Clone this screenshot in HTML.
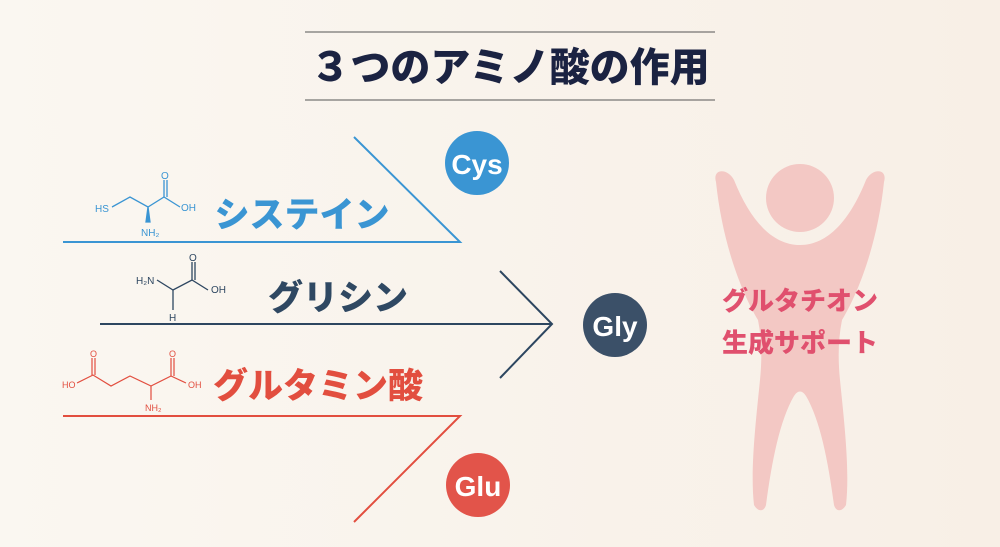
<!DOCTYPE html>
<html><head><meta charset="utf-8"><style>
html,body{margin:0;padding:0}
body{width:1000px;height:547px;background:linear-gradient(90deg,#faf7f1,#f8efe6);overflow:hidden;position:relative;font-family:"Liberation Sans","Noto Sans CJK JP",sans-serif}
svg{position:absolute;left:0;top:0}
</style></head><body>
<svg width="1000" height="547" viewBox="0 0 1000 547">
<line x1="305" y1="32" x2="715" y2="32" stroke="#555" stroke-width="1"/>
<line x1="305" y1="100" x2="715" y2="100" stroke="#555" stroke-width="1"/>
<text x="510" y="81" text-anchor="middle" font-size="40" font-weight="900" fill="#1b2342" font-family="Noto Sans CJK JP,sans-serif">３つのアミノ酸の作用</text>

<!-- Cys -->
<polyline points="354,137 460,242 63,242" fill="none" stroke="#3a95d3" stroke-width="2"/>
<circle cx="477" cy="163" r="32" fill="#3a95d3"/>
<text x="477" y="174" text-anchor="middle" font-size="28" font-weight="bold" fill="#fff">Cys</text>
<text x="302" y="227" text-anchor="middle" font-size="35" font-weight="900" fill="#3a95d3" font-family="Noto Sans CJK JP,sans-serif">システイン</text>
<g stroke="#3a95d3" stroke-width="1.3" fill="none">
<polyline points="112,207 130,197 148,207 164,197 180,207"/>
<line x1="164" y1="197" x2="164" y2="180"/><line x1="167" y1="197" x2="167" y2="180"/>
<path d="M148,207 L146,222 L150,222 Z" fill="#3a95d3"/>
</g>
<g fill="#3a95d3" font-size="10"><text x="95" y="212">HS</text><text x="161" y="179">O</text><text x="181" y="211">OH</text><text x="141" y="236">NH₂</text></g>

<!-- Gly -->
<line x1="100" y1="324" x2="552" y2="324" stroke="#2d4660" stroke-width="2"/>
<polyline points="500,271 552,324 500,378" fill="none" stroke="#2d4660" stroke-width="2"/>
<circle cx="615" cy="325" r="32" fill="#3b5068"/>
<text x="615" y="336" text-anchor="middle" font-size="28" font-weight="bold" fill="#fff">Gly</text>
<text x="338" y="310" text-anchor="middle" font-size="35" font-weight="900" fill="#2f4862" font-family="Noto Sans CJK JP,sans-serif">グリシン</text>
<g stroke="#2d4660" stroke-width="1.3" fill="none">
<polyline points="157,280 173,290 192,280 208,290"/>
<line x1="192" y1="280" x2="192" y2="262"/><line x1="195" y1="280" x2="195" y2="262"/>
<line x1="173" y1="290" x2="173" y2="310"/>
</g>
<g fill="#2d4660" font-size="10"><text x="136" y="284">H₂N</text><text x="189" y="261">O</text><text x="211" y="293">OH</text><text x="169" y="321">H</text></g>

<!-- Glu -->
<polyline points="63,416 460,416 354,522" fill="none" stroke="#e24e3f" stroke-width="2"/>
<circle cx="478" cy="485" r="32" fill="#e2544a"/>
<text x="478" y="496" text-anchor="middle" font-size="28" font-weight="bold" fill="#fff">Glu</text>
<text x="318" y="398" text-anchor="middle" font-size="35" font-weight="900" fill="#e24e3f" font-family="Noto Sans CJK JP,sans-serif">グルタミン酸</text>
<g stroke="#e24e3f" stroke-width="1.2" fill="none">
<polyline points="77,383 93,375 111,386 130,376 151,386 171,376 186,383"/>
<line x1="92" y1="375" x2="92" y2="358"/><line x1="95" y1="375" x2="95" y2="358"/>
<line x1="171" y1="376" x2="171" y2="358"/><line x1="174" y1="376" x2="174" y2="358"/>
<line x1="151" y1="386" x2="151" y2="400"/>
</g>
<g fill="#e24e3f" font-size="9"><text x="62" y="388">HO</text><text x="90" y="357">O</text><text x="169" y="357">O</text><text x="188" y="388">OH</text><text x="145" y="411">NH₂</text></g>

<!-- figure -->
<g fill="#f3c8c4">
<circle cx="800" cy="198" r="34"/>
<path d="M716,182 C712,168 728,168 734,180 C750,220 772,245 800,245 C828,245 850,220 866,180 C872,168 888,168 884,182 C878,240 860,290 842,320 C838,340 838,360 840,380 C844,420 850,470 846,505 C842,512 836,512 834,505 C828,460 820,420 806,396 C802,390 798,390 794,396 C780,420 772,460 766,505 C764,512 758,512 754,505 C750,470 756,420 760,380 C762,360 762,340 758,320 C740,290 722,240 716,182 Z"/>
</g>
<g font-size="26" font-weight="900" fill="#e0506e" font-family="Noto Sans CJK JP,sans-serif" text-anchor="middle">
<text x="800" y="310">グルタチオン</text><text x="800" y="352">生成サポート</text>
</g>
</svg>
</body></html>
